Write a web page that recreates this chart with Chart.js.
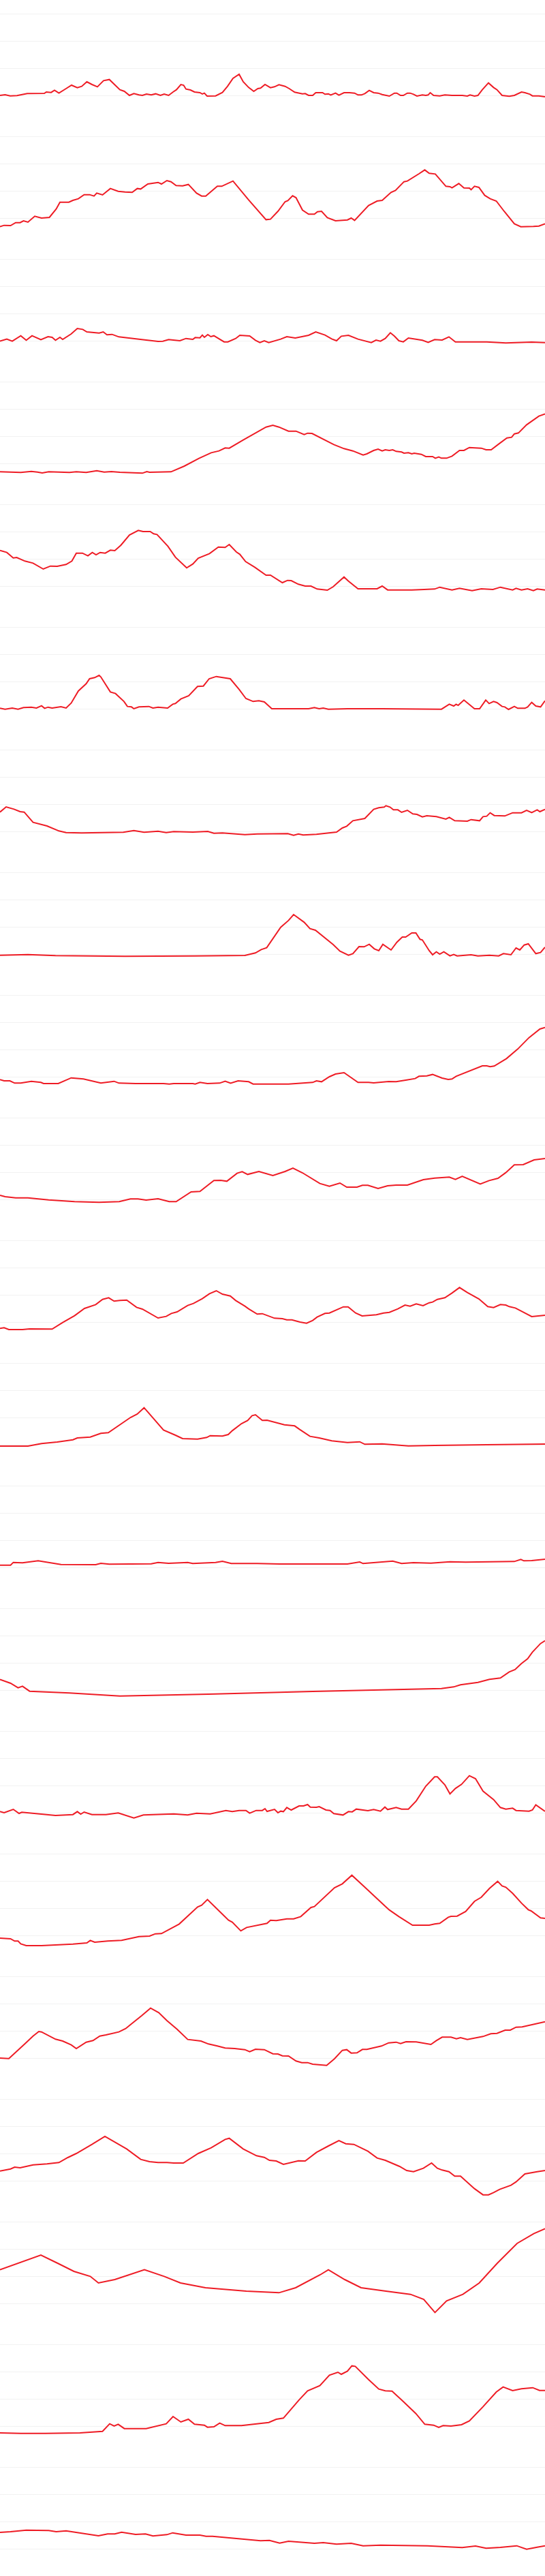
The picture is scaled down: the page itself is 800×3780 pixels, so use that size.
<!DOCTYPE html>
<html>
<head>
<meta charset="utf-8">
<script src="https://cdn.jsdelivr.net/npm/chart.js@4"></script>
<style>
  html, body { margin: 0; padding: 0; background: #fff; }
  canvas { display: block; }
</style>
</head>
<body>
<div id="charts"></div>
<script>
// each series: [day, value] pairs
const xMax = 160
const yMax = 540
const gridTicks = [120, 240, 360, 480]

const s00 = [[0,120],[1.5,123],[3,118],[5,119],[8,128],[13,129],[13.6,135],[15,133],[16,143],[17.3,130],[19.4,150],[21,165],[22.7,154],[24,160],[25.5,180],[27,168],[28.6,158],[30.4,185],[32.1,190],[35.2,145],[36.5,138],[38,120],[39.3,128],[40.8,122],[41.8,120],[43,126],[44.4,122],[45.7,127],[47.1,120],[48.2,126],[49.5,120],[50.8,135],[51.8,145],[53.1,168],[53.9,165],[54.6,148],[55.9,144],[57.1,135],[58.7,132],[59.4,126],[60,130],[60.8,117],[63.3,118],[65.3,133],[66.8,160],[68.4,195],[70.2,213],[71.4,180],[73,155],[74.5,138],[75.7,150],[76.5,152],[77.8,168],[79.4,154],[80.6,158],[81.9,167],[83.7,160],[84.9,150],[86.5,134],[88.8,127],[89.6,128],[90.6,120],[91.8,120],[92.7,132],[94.7,132],[95.4,125],[96.4,127],[97.1,122],[98.5,130],[99.5,121],[101,132],[102.6,132],[104.1,130],[105.1,122],[106.1,122],[107.1,128],[108.4,142],[109.7,132],[111,130],[112.2,124],[114.3,117],[115.8,130],[116.5,130],[117.6,120],[118.4,120],[119.6,130],[120.4,130],[121.4,125],[122.4,117],[124,122],[125,120],[125.7,122],[126.3,132],[127.3,120],[129.1,118],[130.6,122],[132.7,120],[135.7,120],[137.2,117],[138,122],[139.3,117],[140.3,120],[141.6,145],[143.4,175],[144.9,155],[145.9,145],[147.4,120],[149.5,116],[151,120],[153.1,135],[154.1,132],[155.6,125],[156.3,118],[158.2,118],[160,114]]

const s01 = [[0,82],[1.2,88],[3.1,87],[4.6,100],[5.9,100],[6.9,108],[8.2,102],[10.2,128],[12.2,120],[14.5,123],[16.5,160],[17.6,190],[20.2,190],[21.4,198],[23,205],[24.7,223],[26.3,223],[27.6,217],[28.4,230],[30.1,222],[32.4,250],[34.7,238],[36.7,235],[38.8,233],[40.3,250],[41.3,248],[43.4,270],[46.4,277],[47.4,270],[49,285],[50.2,280],[51.7,263],[53.6,262],[55.3,268],[57.7,230],[59.2,217],[60.4,217],[63.8,260],[65.1,260],[68.4,283],[73,200],[78.1,113],[79.4,115],[81.6,150],[83.7,192],[84.5,197],[85.9,218],[86.9,210],[88.8,155],[90.6,137],[92.3,137],[93.2,148],[94.4,150],[96.1,122],[98.5,108],[102,112],[103.1,120],[104.1,110],[108.2,175],[110.7,195],[112.2,198],[114.8,233],[116.1,242],[118.6,280],[119.6,283],[123,315],[124.7,332],[126,317],[127.8,314],[130.9,260],[132.1,258],[132.7,253],[134.7,272],[136.2,253],[137.8,252],[138.3,245],[139.3,260],[140.6,255],[142.3,220],[143.9,205],[145.7,195],[148,150],[151,95],[152.9,82],[156.6,83],[158.2,85],[160,95]]

const s02 = [[0,118],[2,127],[3.6,118],[6.1,142],[7.7,122],[9.4,142],[12,125],[14.1,138],[15.3,135],[16.3,122],[17.6,135],[18.4,126],[20.9,150],[22.7,174],[24.3,170],[25.5,159],[29.1,154],[30.3,159],[31.4,146],[32.9,148],[34.9,137],[40.8,127],[46.4,117],[47.8,118],[49.5,125],[52.8,120],[54.6,130],[56.6,126],[57.3,134],[58.7,133],[59.4,145],[60,135],[61,147],[61.9,138],[62.8,142],[65.8,115],[66.9,115],[69.2,130],[70.4,144],[73.3,141],[75,122],[76.3,112],[77.6,120],[78.9,112],[82.4,127],[84.2,138],[86.7,132],[90.6,144],[92.7,159],[95.4,145],[97.4,128],[98.8,120],[100.2,140],[102.3,144],[105.1,127],[109,112],[110.4,123],[111.7,118],[113.1,130],[114.6,155],[115.8,140],[117.1,120],[118.4,115],[119.9,132],[124,122],[125.7,113],[127.6,125],[129.8,123],[131.8,137],[133.7,115],[142.9,115],[148.5,110],[156.1,114],[160,112]]

const s03 = [[0,83],[6.1,80],[9.2,85],[11,82],[12.4,78],[14.3,83],[20.4,80],[22.4,83],[25.3,80],[28.4,88],[30.6,82],[32.7,84],[35.2,81],[41.8,77],[43.1,84],[43.9,81],[50.2,83],[54.1,108],[58.4,142],[62,167],[64.3,175],[66.1,188],[67.3,187],[71.4,223],[78.1,280],[80.1,288],[81.9,280],[84.7,262],[86.9,262],[89.3,247],[90.3,253],[91.6,252],[98,203],[101,185],[103.6,175],[106.6,157],[107.7,162],[109.7,177],[111,183],[112.2,175],[113.1,180],[114.3,177],[115.3,180],[116.3,173],[117.9,170],[118.6,165],[119.9,167],[120.9,162],[121.6,165],[123.7,160],[125,150],[127,150],[127.8,143],[128.8,148],[129.6,143],[131.1,143],[132.7,152],[134.9,177],[136.2,177],[137.8,190],[141.3,187],[142.7,180],[144.2,180],[146.4,205],[148.8,232],[150.2,235],[151,250],[152.2,254],[154.6,290],[158.2,328],[160,338]]

const s04 = [[0,277],[2,268],[3.9,244],[4.9,246],[7.3,230],[9.7,221],[12.7,195],[14.8,208],[16.8,207],[19.4,215],[21.1,230],[22.4,265],[24.2,265],[25.8,253],[27.1,268],[28.2,258],[29.4,268],[30.9,265],[32.4,278],[33.7,276],[35.5,300],[38,345],[40.6,365],[42,360],[44.1,360],[45.1,350],[46.1,347],[49.3,295],[51.5,247],[54.8,200],[56.6,217],[58.2,243],[61.5,263],[64.1,292],[66.1,290],[67.3,303],[69.4,270],[70.4,260],[72.1,228],[74.8,203],[78.1,168],[79.4,168],[82.9,135],[84.4,145],[85.5,144],[87.6,128],[89.6,120],[91.3,120],[93.1,107],[96.1,102],[97.8,117],[101,160],[102.3,142],[105.1,108],[110.7,108],[112.2,120],[113.8,103],[120.9,103],[124.5,105],[127.6,107],[129.1,115],[132.7,103],[134.9,110],[138.6,100],[141.3,108],[144.7,105],[146.9,115],[150.5,103],[151.5,110],[153.1,103],[154.9,108],[156.6,100],[157.7,107],[160,103]]

const s05 = [[0,122],[1.5,118],[3.6,123],[5.3,118],[6.9,125],[9.2,127],[10.7,123],[12.2,133],[13.1,122],[14.1,127],[15.3,123],[17.9,129],[19.4,123],[20.9,145],[23,198],[25.3,230],[26.3,252],[27.8,257],[29.1,267],[29.6,260],[32.4,194],[33.9,187],[36.4,152],[37.4,130],[38.6,128],[39.3,120],[40.8,128],[43.7,130],[44.9,123],[46.4,127],[49.2,123],[50.7,140],[51.5,143],[53.1,163],[55.4,177],[58,218],[59.7,220],[61.4,252],[63.5,262],[67.6,252],[70.2,205],[72.2,165],[74.3,152],[76,155],[77.6,150],[79.8,120],[90.6,120],[92.3,125],[93.7,120],[94.9,123],[96.4,118],[102,120],[112.2,120],[129.6,118],[131.9,140],[133.2,132],[133.9,140],[134.5,135],[136.2,158],[139.3,120],[140.8,120],[142.6,158],[143.6,143],[144.9,152],[145.9,147],[147.4,130],[148.2,128],[149.3,117],[151,130],[152,122],[154.1,122],[154.9,128],[156.1,148],[157.3,132],[158.7,128],[160,155]]

const s06 = [[0,205],[1.8,228],[4.1,218],[5.9,207],[7.1,205],[9.7,160],[13.8,144],[17.3,122],[19.4,115],[24,113],[36.2,116],[39.3,124],[42.3,116],[46.4,121],[48.8,115],[51,119],[56.6,117],[61,120],[62.8,112],[65.3,113],[71.9,106],[75.5,109],[84.5,110],[86.2,103],[87.6,109],[89,104],[92.9,107],[98.8,117],[100.5,135],[101.8,143],[103.6,167],[107.1,177],[109.7,217],[111.2,224],[112.8,227],[113.3,233],[114.5,227],[115.5,215],[116.8,215],[117.9,204],[119.6,213],[121.2,197],[122.4,195],[124,184],[125.3,189],[128.1,185],[130.9,174],[131.9,182],[133.5,167],[137.2,165],[138.3,172],[140.8,167],[141.8,185],[142.9,187],[143.9,202],[145.1,190],[148.2,188],[150.5,202],[153.1,202],[154.6,213],[156.1,203],[157.7,215],[158.5,207],[160,217]]

const s07 = [[0,115],[8.2,118],[16.3,113],[36.7,110],[57.1,112],[71.9,114],[75,125],[76.7,140],[78.3,148],[82.4,238],[84.7,268],[86.2,294],[89.3,260],[91,232],[92.6,225],[97.8,162],[99.8,133],[102.3,115],[103.6,122],[105.4,153],[106.9,152],[108.4,163],[109.9,143],[111.2,135],[112.4,163],[114.8,138],[116.5,172],[118.1,195],[119.1,195],[120.9,213],[122.1,213],[123.3,185],[124,182],[126,135],[127,117],[128.1,130],[129.1,120],[130.3,130],[132.1,112],[133.2,118],[134.2,112],[138.3,117],[140.3,112],[143.7,115],[146.4,112],[147.8,122],[150,117],[151.5,147],[152.6,138],[153.9,160],[155.1,165],[157.3,122],[158.7,127],[160,150]]

const s08 = [[0,107],[1.2,102],[2.9,102],[4.3,92],[6.1,92],[9.2,100],[12,95],[12.8,90],[17.1,90],[20.9,115],[24.5,110],[29.6,92],[33.5,100],[34.9,92],[39.8,90],[48,90],[49.7,88],[51,90],[56.6,90],[57.3,88],[58.7,95],[60.9,90],[64.5,92],[66.1,100],[67.7,92],[69.9,102],[73,98],[74.3,88],[84.7,88],[91.8,95],[92.9,102],[94.4,98],[96.7,120],[98.5,132],[101,138],[105.1,95],[108.2,95],[109.7,93],[114.1,99],[116.3,98],[119.4,106],[121.9,112],[123,122],[125.3,124],[127,130],[129.8,114],[131.6,108],[132.7,110],[133.9,122],[141.6,168],[142.9,168],[143.9,164],[145.1,167],[148.7,200],[152,242],[155.3,292],[158.5,330],[160,337]]

const s09 = [[0,138],[1.5,132],[4.6,127],[8.2,127],[14.3,118],[21.9,110],[29.1,107],[35,110],[38.3,122],[40.5,122],[42.9,117],[46.4,123],[49.7,110],[51.7,110],[56.1,153],[58.7,155],[62.8,203],[64.8,204],[66.6,200],[69.6,235],[71.1,242],[72.7,230],[76,243],[80.1,225],[83.7,243],[86,258],[88.8,237],[93.9,190],[96.7,178],[99.8,192],[101.8,174],[104.8,174],[106.4,182],[108,182],[111,168],[113.8,180],[116.3,183],[119.6,183],[124.3,207],[127.6,214],[131.9,218],[133.7,208],[135.7,222],[141,188],[143.6,203],[146.2,213],[148.5,238],[151,272],[153.6,273],[156.8,294],[160,300]]

const s10 = [[0,92],[1.2,95],[2.6,87],[6.6,87],[8.7,90],[15.3,89],[18.4,118],[21.9,148],[24.8,180],[28.1,197],[30.1,220],[31.9,227],[33.5,212],[35.2,215],[37.2,217],[40.1,185],[41.8,177],[46.4,138],[48.8,145],[50.3,158],[52,165],[55.1,193],[56.8,202],[59.4,223],[61.5,245],[63.5,258],[65.3,243],[67.6,235],[69.2,215],[71.9,190],[73,178],[75.5,155],[77,157],[80.6,137],[82.9,135],[84.2,130],[85.7,130],[88.1,120],[90,115],[91.8,127],[93.1,142],[95.4,158],[96.7,160],[100.8,187],[102.2,187],[104.4,160],[106.3,147],[110.5,152],[112.6,160],[114.3,163],[116.8,178],[118.9,195],[120.4,190],[122.2,200],[124.2,192],[126,205],[127,208],[128.4,220],[130.6,227],[132.7,248],[134.9,272],[137.2,250],[140.6,222],[143.2,188],[144.9,184],[146.9,197],[148.5,195],[149.5,188],[151.3,182],[153.6,164],[156.1,144],[160,150]]

const s11 = [[0,114],[8.2,114],[12.2,125],[16.8,132],[21.4,142],[22.7,150],[26.5,154],[29.6,170],[31.8,173],[38.3,240],[40.3,255],[42.3,283],[48,185],[51.5,162],[53.6,147],[58,145],[60.7,152],[61.7,160],[65.3,158],[67,165],[68.2,182],[70.9,213],[72.7,227],[74,248],[75,252],[77,227],[78.4,228],[83.5,208],[86.5,203],[88,187],[91,157],[93.7,150],[97.4,137],[102,130],[105.6,133],[107.1,122],[112.2,124],[119.9,115],[127.6,117],[142.9,120],[160,123]]

const s12 = [[0,130],[3.1,130],[3.9,142],[6.6,140],[11.2,149],[17.9,133],[28.1,132],[29.6,138],[32.1,134],[44.4,136],[46.4,142],[49.5,138],[55.1,142],[56.6,137],[63.3,142],[65.3,147],[67.9,137],[75.5,137],[82.1,135],[102,135],[105.6,144],[106.6,137],[115.3,148],[117.9,137],[121.4,141],[126.5,139],[132.1,145],[136.7,143],[151,146],[152.9,155],[153.8,149],[156.1,150],[160,156]]

const s13 = [[0,167],[3.1,150],[5.3,130],[6.6,137],[8.7,115],[20.4,107],[35.2,94],[61.2,102],[91.8,114],[129.6,127],[133.2,134],[135.2,143],[140.3,154],[143.7,167],[146.9,173],[149.5,200],[151.2,210],[153.1,237],[154.9,258],[156.3,287],[158.7,325],[160,337]]

const s14 = [[0,125],[1.2,120],[3.9,135],[5.6,117],[6.4,122],[16.3,108],[21.4,112],[22.7,125],[23.7,114],[24.7,123],[27,112],[31.1,112],[34.7,119],[39.3,97],[42.1,110],[51,115],[55.1,110],[57.7,118],[61.7,115],[66.3,130],[68.2,125],[70.2,130],[72.2,130],[73.3,118],[75.2,130],[77,130],[77.8,138],[78.4,126],[80.6,135],[81.6,120],[82.4,127],[83.2,125],[84.2,143],[85.5,132],[87.8,150],[89.1,150],[90.3,156],[91.1,145],[92.9,144],[93.7,147],[95.7,132],[96.9,130],[98,116],[100.7,110],[102.3,125],[103.4,124],[104.6,136],[108,129],[109.7,134],[111.7,127],[113,145],[113.8,134],[116.3,143],[117.9,136],[119.9,136],[122.2,172],[125,237],[127.6,278],[128.4,278],[130.6,243],[132.1,203],[133.7,227],[135.5,245],[137.8,283],[139.6,270],[141.8,215],[144.9,178],[146.9,143],[148.5,136],[150.5,140],[151.5,130],[155.3,127],[156.3,132],[157.3,155],[160,126]]

const s15 = [[0,108],[3.1,105],[4.3,95],[5.3,95],[6.1,83],[7.7,75],[12.2,75],[21.4,82],[25.5,87],[26.5,98],[27.8,90],[31.6,95],[35.7,98],[40.8,115],[43.9,117],[45.6,127],[47.4,128],[52.6,170],[58,245],[59.2,253],[60.9,278],[64.3,228],[67.1,187],[68.2,178],[70.7,140],[72.4,155],[78.4,173],[79.4,187],[81.1,185],[84.2,193],[86.2,193],[88.3,203],[91.3,243],[92.3,247],[98.2,330],[100.5,347],[103.3,385],[107.1,332],[113.1,248],[114.3,232],[117.1,203],[121.1,165],[126,165],[127.6,170],[129.1,173],[131.6,200],[132.4,204],[134.2,205],[136.7,225],[139.3,270],[141.3,288],[143.7,327],[146.1,358],[147.4,338],[148.5,332],[150.5,305],[153.1,262],[155.1,233],[155.9,228],[158.7,197],[160,195]]

const s16 = [[0,120],[2.6,118],[7.1,180],[9.7,217],[11.4,237],[12.2,235],[16.3,203],[18.4,195],[20.9,178],[22.4,162],[25.3,190],[27.3,197],[29.3,217],[31.1,222],[34.9,235],[36.9,250],[38.3,267],[41.6,307],[44.2,340],[46.6,320],[49,285],[52,247],[55.1,202],[59,195],[61.2,182],[63.8,173],[66.1,164],[68.9,162],[71.9,157],[73.3,148],[75,159],[77.6,157],[80.1,139],[81.6,138],[82.9,130],[84.7,129],[86.9,107],[88.6,100],[90.3,100],[91.8,93],[95.9,88],[98.2,117],[100.5,154],[101.8,157],[103.1,142],[104.8,143],[106.4,158],[107.7,158],[112,173],[114.1,187],[116.3,190],[117.6,184],[119.2,192],[122.2,191],[126.5,180],[128.1,197],[129.8,212],[132.4,212],[134,205],[135.2,210],[137.2,202],[141.8,215],[144.1,227],[145.9,229],[148.3,243],[149.8,243],[151.5,256],[153.3,257],[160,280]]

const s17 = [[0,163],[3.1,172],[4.3,180],[5.9,177],[9.7,190],[13.8,194],[17.3,200],[19.9,222],[22.4,240],[27,280],[30.8,315],[37.2,260],[41.3,214],[43.9,204],[46.4,200],[49,200],[51,198],[53.8,198],[58.2,240],[62,265],[66.1,302],[67.3,307],[71.4,260],[75.3,230],[77.6,223],[79.1,210],[81.1,207],[83.2,192],[87.6,208],[89.6,207],[92.9,245],[96.4,273],[99.5,297],[101.5,283],[103.9,280],[108,250],[110.7,220],[113.1,210],[117.3,183],[119.4,165],[121.4,160],[124.3,175],[126.7,198],[128.4,175],[129.8,167],[131.8,160],[133.5,140],[135.2,140],[139.3,85],[141.8,58],[143.4,58],[144.9,68],[146.7,82],[150,100],[151.5,115],[154.1,150],[157.7,160],[160,165]]

const s18 = [[0,268],[12,333],[16.9,297],[21.7,261],[26.5,239],[28.9,210],[33.7,225],[42.4,268],[48.2,239],[53,210],[60.3,189],[72.3,174],[81.9,167],[86.8,189],[94,246],[96.4,268],[101.2,225],[106,189],[113.3,174],[120.5,160],[124.4,138],[127.7,80],[131.1,131],[135.9,160],[140.7,210],[146,297],[151.8,384],[156.7,427],[160,449]]

const s19 = [[0,90],[6.1,88],[13.3,88],[23.5,90],[30.1,97],[32.2,130],[33.5,120],[34.7,128],[36.5,109],[42.9,109],[48.8,130],[50.8,162],[53.1,138],[55.3,150],[57.1,128],[60,124],[60.9,115],[62.8,117],[64.5,133],[66.1,122],[70.9,122],[78.9,136],[81.1,150],[83.2,155],[87.8,235],[90.3,275],[93.9,298],[96.7,344],[99.2,357],[100.2,348],[102,362],[103.3,385],[104.3,383],[108.2,325],[111.2,283],[113.1,275],[115.1,274],[118.4,228],[122.1,175],[124.7,128],[127.3,124],[128.8,114],[130.1,122],[132.4,120],[135.5,126],[137.8,143],[141.8,205],[145.7,270],[147.7,292],[150.5,276],[153.1,284],[156.4,289],[158.4,277],[160,277]]

const s20 = [[0,192],[3.1,195],[7.7,202],[14.3,200],[16.5,195],[19.4,199],[28.9,177],[31.6,185],[33.7,185],[35.7,193],[39.8,183],[42.7,185],[44.9,176],[49,182],[50.7,190],[54.6,180],[58.7,180],[60.5,175],[62.4,175],[76.5,155],[79.1,157],[82.1,145],[84.7,153],[92.3,144],[94.9,147],[98.8,140],[103.1,144],[106.6,133],[111.7,136],[125.5,133],[135.7,125],[139.6,132],[142.7,122],[146.9,126],[151.7,133],[154.6,118],[157.7,127],[160,133]]

const seriesList = [s00, s01, s02, s03, s04, s05, s06, s07, s08, s09, s10,
  s11, s12, s13, s14, s15, s16, s17, s18, s19, s20]

const holder = document.getElementById('charts')

seriesList.forEach((series) => {
  const canvas = document.createElement('canvas')
  canvas.width = 800
  canvas.height = 180
  holder.appendChild(canvas)

  new Chart(canvas.getContext('2d'), {
    type: 'line',
    data: {
      datasets: [{
        data: series,
        borderColor: '#ee1c25',
        borderWidth: 2,
        pointRadius: 0,
        tension: 0,
        fill: false
      }]
    },
    options: {
      responsive: false,
      animation: false,
      devicePixelRatio: 1,
      layout: { padding: 0 },
      plugins: {
        legend: { display: false },
        tooltip: { enabled: false }
      },
      scales: {
        x: {
          type: 'linear',
          min: 0,
          max: xMax,
          display: false
        },
        y: {
          min: 0,
          max: yMax,
          afterBuildTicks: (scale) => {
            scale.ticks = gridTicks.map(v => ({ value: v }))
          },
          ticks: { display: false },
          border: { display: false },
          grid: {
            color: 'rgba(0,0,0,0.05)',
            drawTicks: false
          }
        }
      }
    }
  })
})
</script>
</body>
</html>
